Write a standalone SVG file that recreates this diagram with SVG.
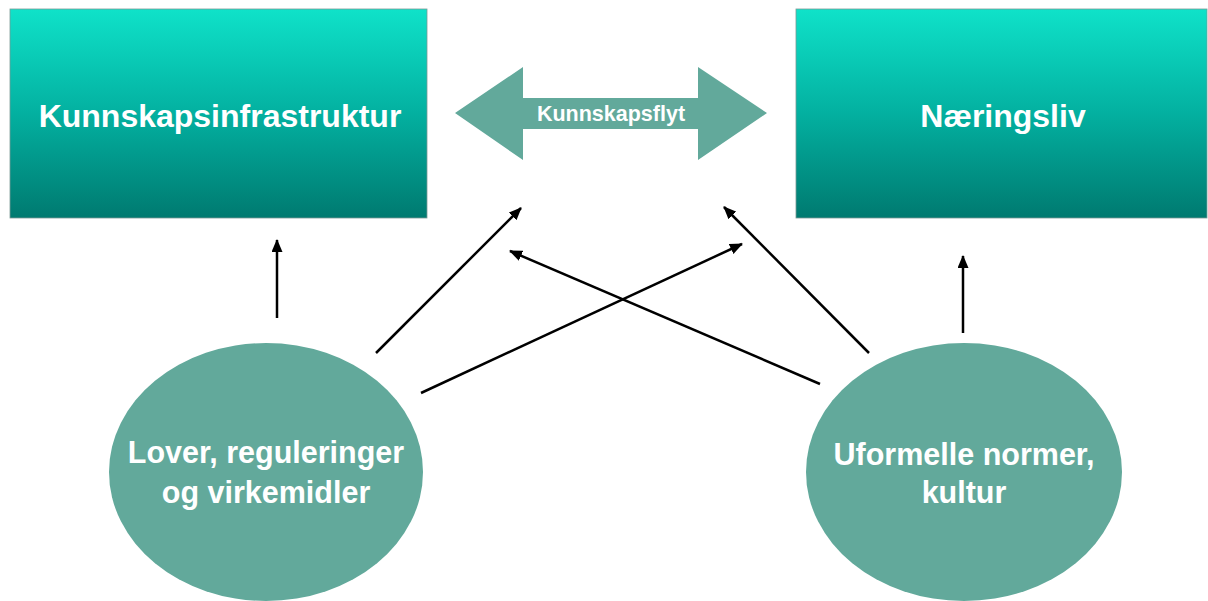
<svg xmlns="http://www.w3.org/2000/svg" width="1208" height="601" viewBox="0 0 1208 601">
<defs>
<linearGradient id="boxGrad" x1="0" y1="0" x2="0" y2="1">
<stop offset="0" stop-color="#0fe2c9"/>
<stop offset="0.5" stop-color="#03b0a0"/>
<stop offset="1" stop-color="#007a70"/>
</linearGradient>
<marker id="ah" viewBox="0 0 13 11" refX="12" refY="5.5" markerWidth="13" markerHeight="11" markerUnits="userSpaceOnUse" orient="auto">
<path d="M0,0 L13,5.5 L0,11 Z" fill="#000"/>
</marker>
<style>
.box{fill:url(#boxGrad);stroke:#7a9a96;stroke-width:0.8}
.oval{fill:#62a99b}
.t{font-family:"Liberation Sans",Arial,sans-serif;font-weight:bold;fill:#fff;text-anchor:middle}
.conn{stroke:#000;stroke-width:2.5;fill:none;marker-end:url(#ah)}
</style>
</defs>
<rect width="1208" height="601" fill="#fff"/>
<g id="kunnskapsinfrastruktur">
<rect class="box" x="10" y="9" width="417" height="209"/>
<text class="t" x="220" y="127" font-size="32">Kunnskapsinfrastruktur</text>
</g>
<g id="naeringsliv">
<rect class="box" x="796" y="9" width="411" height="209"/>
<text class="t" x="1003" y="127" font-size="32">Næringsliv</text>
</g>
<g id="kunnskapsflyt">
<path d="M455,113 L523,67 L523,98 L698,98 L698,67 L767,113 L698,160 L698,129 L523,129 L523,160 Z" fill="#62a99b"/>
<text class="t" x="611" y="121" font-size="21.5">Kunnskapsflyt</text>
</g>
<g id="lover">
<ellipse class="oval" cx="266" cy="472" rx="157" ry="129"/>
<text class="t" x="266" y="463" font-size="30.5">Lover, reguleringer</text>
<text class="t" x="266" y="503" font-size="30.5">og virkemidler</text>
</g>
<g id="uformelle">
<ellipse class="oval" cx="964" cy="472" rx="158" ry="129"/>
<text class="t" x="964" y="465" font-size="30.5">Uformelle normer,</text>
<text class="t" x="964" y="503" font-size="30.5">kultur</text>
</g>
<g id="connectors">
<line class="conn" x1="277" y1="318" x2="277" y2="240"/>
<line class="conn" x1="376" y1="353" x2="521" y2="208"/>
<line class="conn" x1="421" y1="393" x2="742" y2="244"/>
<line class="conn" x1="820" y1="384" x2="510" y2="251"/>
<line class="conn" x1="869" y1="353" x2="724" y2="207"/>
<line class="conn" x1="963" y1="333" x2="963" y2="256"/>
</g>
</svg>
